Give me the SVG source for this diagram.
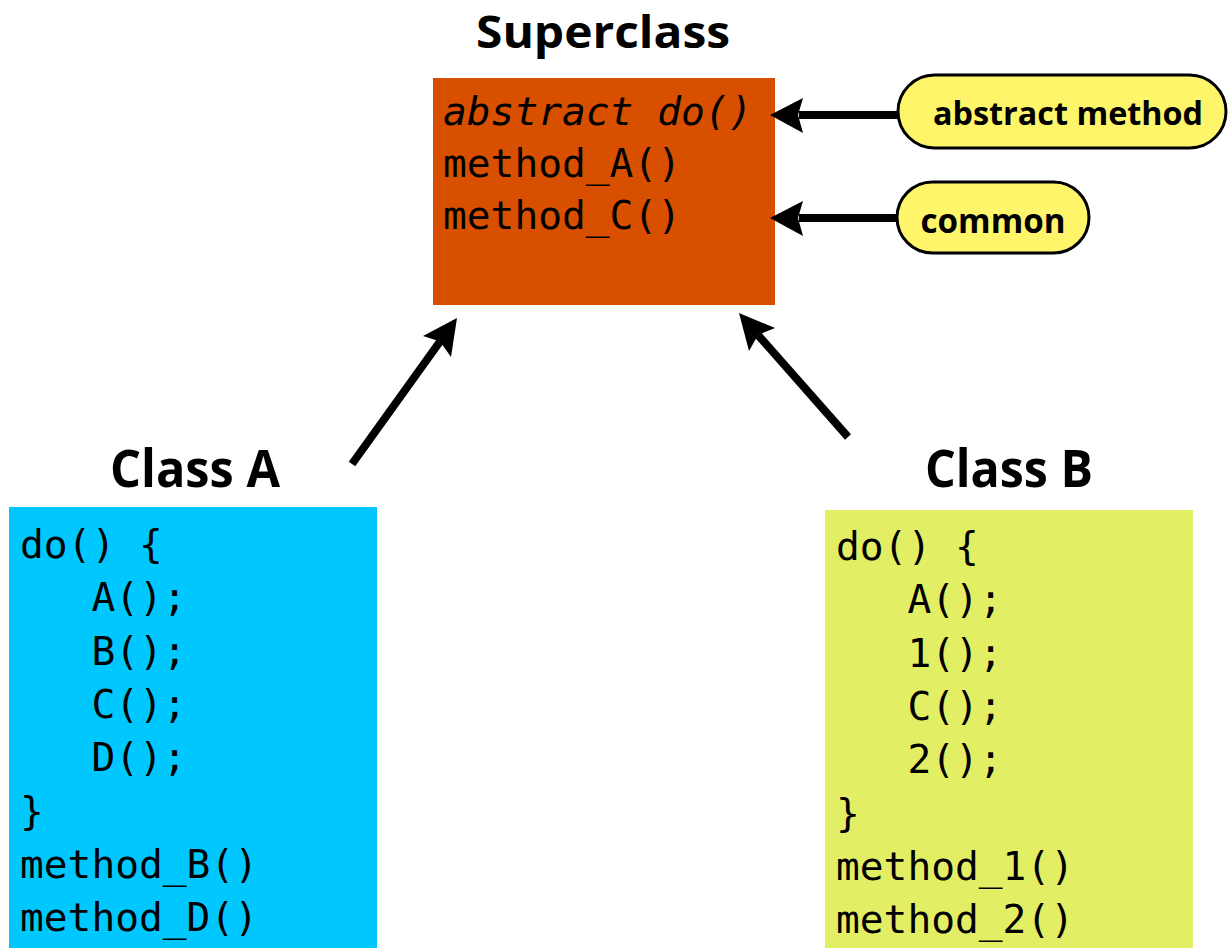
<svg xmlns="http://www.w3.org/2000/svg" width="1228" height="948" viewBox="0 0 1228 948">
<style>
.title{font-family:"Open Sans","DejaVu Sans",sans-serif;font-weight:bold;fill:#000}
.code{font-family:"DejaVu Sans Mono","Liberation Mono",monospace;font-size:39px;fill:#000}
.pill{fill:#FFF56B;stroke:#000;stroke-width:3}
.plabel{font-family:"Open Sans","DejaVu Sans",sans-serif;font-weight:bold;fill:#000}
.conn{stroke:#000;stroke-width:8;fill:none}
.head{fill:#000}
</style>
<rect width="1228" height="948" fill="#fff"/>
<g id="superclass">
<text class="title" x="603" y="48" font-size="44" text-anchor="middle" textLength="254" lengthAdjust="spacingAndGlyphs">Superclass</text>
<rect x="433" y="78" width="342" height="227" fill="#D94F00"/>
<text class="code" x="443" y="125" font-style="italic" textLength="309.4" lengthAdjust="spacingAndGlyphs">abstract do()</text>
<text class="code" x="443" y="177" textLength="238" lengthAdjust="spacingAndGlyphs">method_A()</text>
<text class="code" x="443" y="229" textLength="238" lengthAdjust="spacingAndGlyphs">method_C()</text>
</g>
<g id="classA">
<text class="title" x="195" y="487" font-size="52" text-anchor="middle" textLength="170" lengthAdjust="spacingAndGlyphs">Class A</text>
<rect x="9" y="507" width="368" height="441" fill="#00C8FF"/>
<text class="code" x="20" y="558" textLength="142.8" lengthAdjust="spacingAndGlyphs">do() {</text>
<text class="code" x="91.4" y="611.3" textLength="95.2" lengthAdjust="spacingAndGlyphs">A();</text>
<text class="code" x="91.4" y="664.6" textLength="95.2" lengthAdjust="spacingAndGlyphs">B();</text>
<text class="code" x="91.4" y="717.9" textLength="95.2" lengthAdjust="spacingAndGlyphs">C();</text>
<text class="code" x="91.4" y="771.2" textLength="95.2" lengthAdjust="spacingAndGlyphs">D();</text>
<text class="code" x="20" y="824.5" textLength="23.8" lengthAdjust="spacingAndGlyphs">}</text>
<text class="code" x="20" y="877.8" textLength="238" lengthAdjust="spacingAndGlyphs">method_B()</text>
<text class="code" x="20" y="931.1" textLength="238" lengthAdjust="spacingAndGlyphs">method_D()</text>
</g>
<g id="classB">
<text class="title" x="1009" y="487" font-size="52" text-anchor="middle" textLength="168" lengthAdjust="spacingAndGlyphs">Class B</text>
<rect x="825" y="510" width="368" height="438" fill="#E2EE64"/>
<text class="code" x="836" y="560" textLength="142.8" lengthAdjust="spacingAndGlyphs">do() {</text>
<text class="code" x="907.4" y="613.3" textLength="95.2" lengthAdjust="spacingAndGlyphs">A();</text>
<text class="code" x="907.4" y="666.6" textLength="95.2" lengthAdjust="spacingAndGlyphs">1();</text>
<text class="code" x="907.4" y="719.9" textLength="95.2" lengthAdjust="spacingAndGlyphs">C();</text>
<text class="code" x="907.4" y="773.2" textLength="95.2" lengthAdjust="spacingAndGlyphs">2();</text>
<text class="code" x="836" y="826.5" textLength="23.8" lengthAdjust="spacingAndGlyphs">}</text>
<text class="code" x="836" y="879.8" textLength="238" lengthAdjust="spacingAndGlyphs">method_1()</text>
<text class="code" x="836" y="933.1" textLength="238" lengthAdjust="spacingAndGlyphs">method_2()</text>
</g>
<g id="note-abstract">
<rect class="pill" x="898" y="75" width="328" height="73" rx="36.5"/>
<text class="plabel" x="1068" y="125" font-size="32" text-anchor="middle" textLength="270" lengthAdjust="spacingAndGlyphs">abstract method</text>
</g>
<g id="note-common">
<rect class="pill" x="897" y="182" width="192" height="71" rx="35.5"/>
<text class="plabel" x="993" y="233" font-size="34" text-anchor="middle" textLength="145" lengthAdjust="spacingAndGlyphs">common</text>
</g>
<g id="connectors">
<path class="conn" d="M898,115 L799,115"/>
<polygon class="head" points="770,115 803,98 798,115 803,133"/>
<path class="conn" d="M897,218 L799,218"/>
<polygon class="head" points="770,218 803,201 798,218 803,236"/>
<path class="conn" d="M352,464 L440,341.5"/>
<polygon class="head" points="457,318 451,357 440,341.5 423,336"/>
<path class="conn" d="M848,437 L758,335"/>
<polygon class="head" points="739,313 775,328 758,335 749,351"/>
</g>
</svg>
